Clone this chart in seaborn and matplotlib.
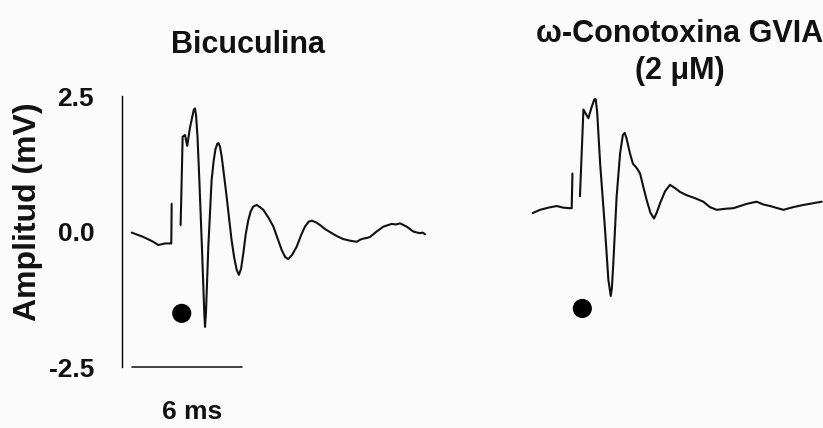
import matplotlib
matplotlib.use("Agg")
import matplotlib.pyplot as plt
import pandas as pd
import seaborn as sns

# Traces: time (ms) and amplitude (mV).
# The first 8 points are the pre-stimulus baseline + artifact; the trace is broken after it.
bic_t = [0.53, 1.16, 1.71, 1.98, 2.35, 2.62, 2.69, 2.71,
         3.20, 3.31, 3.44, 3.56, 3.70, 3.80, 3.92, 3.98, 4.04, 4.12,
         4.22, 4.36, 4.49, 4.53, 4.58, 4.71, 4.89, 5.00, 5.10, 5.20,
         5.27, 5.35, 5.44, 5.58, 5.71, 5.85, 5.98, 6.12, 6.26, 6.38,
         6.50, 6.62, 6.75, 6.89, 7.02, 7.16, 7.35, 7.52, 7.71, 8.00,
         8.26, 8.50, 8.71, 8.90, 9.07, 9.28, 9.53, 9.78, 9.98, 10.18,
         10.35, 10.58, 10.80, 11.10, 11.44, 11.75, 12.07, 12.45, 12.80, 13.00,
         13.17, 13.35, 13.53, 13.89, 14.26, 14.71, 14.95, 15.17, 15.35, 15.53,
         15.89, 16.10, 16.26, 16.40, 16.53]
bic_v = [-0.02, -0.10, -0.19, -0.25, -0.22, -0.22, -0.22, 0.51,
         0.12, 1.75, 1.78, 1.58, 1.90, 2.06, 2.25, 2.27, 2.15, 1.75,
         0.95, -0.28, -1.51, -1.76, -1.51, -0.28, 0.95, 1.30, 1.52, 1.62,
         1.63, 1.56, 1.38, 1.00, 0.64, 0.22, -0.16, -0.48, -0.71, -0.80,
         -0.68, -0.40, -0.05, 0.21, 0.37, 0.46, 0.49, 0.45, 0.40, 0.25,
         0.09, -0.14, -0.34, -0.47, -0.51, -0.43, -0.28, -0.06, 0.09, 0.18,
         0.20, 0.17, 0.12, 0.04, -0.03, -0.09, -0.14, -0.17, -0.19, -0.15,
         -0.13, -0.12, -0.10, 0.00, 0.09, 0.14, 0.13, 0.15, 0.12, 0.09,
         0.00, -0.02, -0.03, -0.02, -0.05]

cono_t = [0.58, 0.98, 1.44, 1.89, 2.25, 2.62, 2.71, 2.75,
          3.16, 3.35, 3.50, 3.62, 3.80, 3.95, 4.02, 4.10, 4.26, 4.53,
          4.71, 4.84, 4.90, 4.98, 5.16, 5.35, 5.50, 5.60, 5.70, 5.89,
          6.05, 6.16, 6.30, 6.44, 6.62, 6.80, 7.00, 7.20, 7.35, 7.53,
          7.80, 8.07, 8.35, 8.62, 8.98, 9.40, 9.89, 10.25, 10.62, 11.10,
          11.53, 12.26, 12.80, 13.15, 13.53, 14.26, 14.80, 15.35, 16.35]
cono_v = [0.34, 0.40, 0.44, 0.47, 0.44, 0.43, 0.43, 1.07,
          0.65, 2.25, 2.16, 2.09, 2.30, 2.44, 2.44, 2.20, 1.26, 0.03,
          -0.89, -1.19, -1.05, -0.59, 0.64, 1.44, 1.78, 1.82, 1.72, 1.44,
          1.25, 1.21, 1.15, 1.07, 0.82, 0.58, 0.35, 0.24, 0.35, 0.52,
          0.74, 0.86, 0.80, 0.73, 0.67, 0.62, 0.55, 0.45, 0.40, 0.42,
          0.43, 0.51, 0.55, 0.50, 0.47, 0.40, 0.45, 0.49, 0.55]

# population spike markers
dot_t = [3.26, 3.29]
dot_v = [-1.51, -1.42]

panel_titles = ["Bicuculina", "\u03c9-Conotoxina GVIA\n(2 \u03bcM)"]
y_ticks = [2.5, 0.0, -2.5]
scale_ms = 6
n_pre = 8

sns.set_theme(style="white")
plt.rcParams["font.family"] = ["Liberation Sans Narrow", "Liberation Sans", "DejaVu Sans"]
plt.rcParams["font.weight"] = "bold"

bg = "#fbfbfb"
ink = "#111111"
fig = plt.figure(figsize=(8.23, 4.28), dpi=100, facecolor=bg)
ax1 = fig.add_axes([0.1482, 0.1425, 0.3767, 0.6332])
ax2 = fig.add_axes([0.6343, 0.1425, 0.3657, 0.6332])

bic = pd.DataFrame({"t": bic_t, "v": bic_v,
                    "seg": [0] * n_pre + [1] * (len(bic_t) - n_pre)})
cono = pd.DataFrame({"t": cono_t, "v": cono_v,
                     "seg": [0] * n_pre + [1] * (len(cono_t) - n_pre)})

for i, (ax, df) in enumerate([(ax1, bic), (ax2, cono)]):
    ax.set_facecolor(bg)
    sns.lineplot(data=df, x="t", y="v", units="seg", estimator=None, sort=False,
                 color=ink, linewidth=1.5, ax=ax, legend=False)
    sns.scatterplot(x=[dot_t[i]], y=[dot_v[i]], color="black", s=190,
                    edgecolor="none", ax=ax, legend=False)
    ax.set_ylim(-2.5, 2.5)
    ax.set_xlabel("")
    ax.set_ylabel("")
    ax.set_xticks([])
    for side in ["top", "right", "bottom"]:
        ax.spines[side].set_visible(False)

ax1.set_xlim(0, 16.91)
ax2.set_xlim(0, 16.42)
ax2.spines["left"].set_visible(False)
ax2.set_yticks([])

ax1.spines["left"].set_color("black")
ax1.spines["left"].set_linewidth(1.0)
ax1.set_yticks(y_ticks)
ax1.set_yticklabels([f"{v:.1f}" for v in y_ticks], fontsize=19, fontweight="bold")
ax1.tick_params(axis="y", length=0, pad=20, colors=ink)

ax1.set_ylabel("Amplitud (mV)", fontsize=23, fontweight="bold", color=ink)
ax1.yaxis.set_label_coords(-0.255, 0.572)

ax1.text(0.406, 1.19, panel_titles[0], transform=ax1.transAxes, ha="center",
         va="center", fontsize=22, fontweight="bold", color=ink)
ax2.text(0.525, 1.16, panel_titles[1], transform=ax2.transAxes, ha="center",
         va="center", fontsize=22, fontweight="bold", color=ink,
         linespacing=1.3)

# time scale bar
ax1.plot([0.55, 0.55 + scale_ms], [-2.5, -2.5], color="#222222", lw=1.2,
         clip_on=False)
ax1.text(3.82, -3.33, f"{scale_ms} ms", ha="center", va="center",
         fontsize=19, fontweight="bold", color=ink)

fig.savefig("out.png", dpi=100, facecolor=bg)
